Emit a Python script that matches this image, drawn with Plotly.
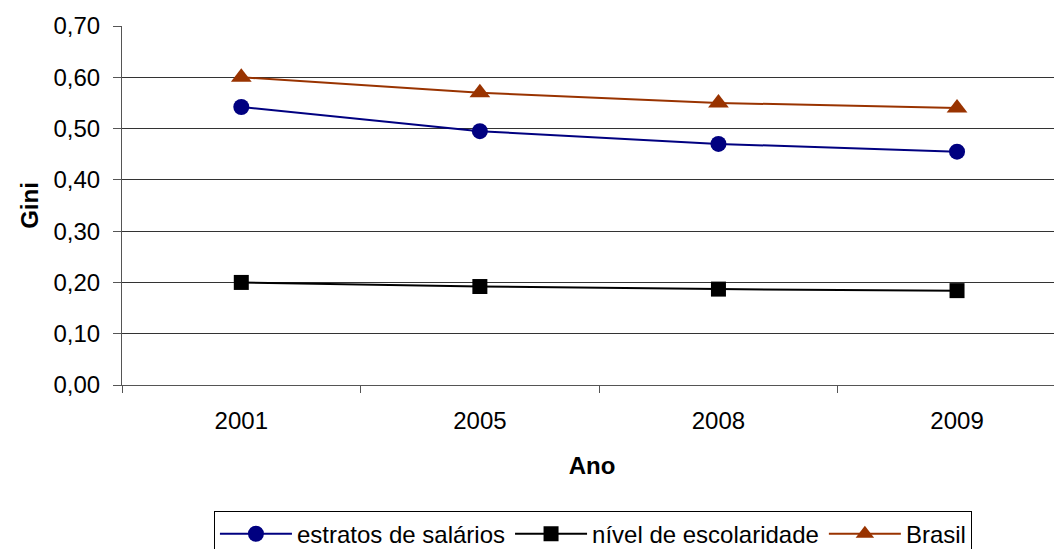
import plotly.graph_objects as go

years = ["2001", "2005", "2008", "2009"]
estratos = [0.542, 0.495, 0.470, 0.455]
nivel = [0.200, 0.192, 0.187, 0.184]
brasil = [0.600, 0.570, 0.550, 0.540]
y_ticks = [0.0, 0.1, 0.2, 0.3, 0.4, 0.5, 0.6, 0.7]

fig = go.Figure()
fig.add_trace(go.Scatter(x=years, y=estratos, name="estratos de salários", mode="lines+markers",
                         line=dict(color="#000080", width=2),
                         marker=dict(symbol="circle", size=16, color="#000080")))
fig.add_trace(go.Scatter(x=years, y=nivel, name="nível de escolaridade", mode="lines+markers",
                         line=dict(color="#000000", width=2),
                         marker=dict(symbol="square", size=15, color="#000000")))
fig.add_trace(go.Scatter(x=years, y=brasil, name="Brasil", mode="lines+markers",
                         line=dict(color="#993300", width=2),
                         marker=dict(symbol="triangle-up", size=18, color="#993300")))

fig.update_layout(
    width=1054, height=541,
    margin=dict(l=114, r=0, t=18, b=164, autoexpand=False),
    paper_bgcolor="white", plot_bgcolor="white",
    separators=",.",
    font=dict(family="Liberation Sans, Arial, sans-serif", size=24, color="black"),
    showlegend=True,
    legend=dict(orientation="h", x=0.501, xanchor="center", y=-0.35, yanchor="top",
                bordercolor="black", borderwidth=1, font=dict(size=24),
                itemwidth=72, tracegroupgap=0),
    xaxis=dict(type="category", range=[-0.5, 3.44], tickson="boundaries",
               ticks="outside", ticklen=7, tickcolor="#555", showline=True,
               linecolor="#555", linewidth=1, showgrid=False,
               ticklabelstandoff=14,
               title=dict(text="<b>Ano</b>", font=dict(size=24), standoff=24),
               tickfont=dict(size=24)),
    yaxis=dict(range=[0, 0.7], tickvals=y_ticks, tickformat=".2f",
               ticks="outside", ticklen=8, tickcolor="#555",
               showline=True, linecolor="#555", linewidth=1,
               showgrid=True, gridcolor="#333", gridwidth=1, zeroline=False,
               ticklabelstandoff=8,
               title=dict(text="<b>Gini</b>", font=dict(size=24), standoff=8),
               tickfont=dict(size=24)),
)

fig.write_html("out.html")
